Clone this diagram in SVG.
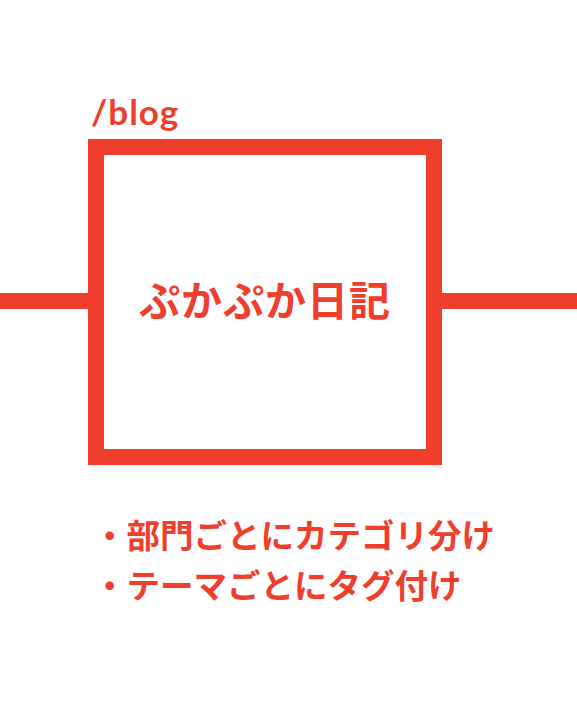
<svg xmlns="http://www.w3.org/2000/svg" width="577" height="719" viewBox="0 0 577 719">
<style>
.ln{stroke:#ef3e2c;stroke-width:16;fill:none}
.t{fill:#ef3e2c;font-family:"Noto Sans CJK JP","Noto Sans",sans-serif;font-weight:700}
</style>
<rect width="577" height="719" fill="#fff"/>
<g id="connectors">
<line class="ln" x1="0" y1="301" x2="88" y2="301"/>
<line class="ln" x1="442" y1="301" x2="577" y2="301"/>
</g>
<g id="blog">
<text x="91" y="125" style="fill:#ef3e2c;font-family:Lato,'Noto Sans',sans-serif;font-weight:700;font-size:35px;letter-spacing:1px">/blog</text>
<rect class="ln" x="96" y="147" width="338" height="310"/>
<text class="t" x="265" y="316" text-anchor="middle" font-size="41" font-weight="500" letter-spacing="1">ぷかぷか日記</text>
</g>
<g id="notes">
<text class="t" x="93" y="548" font-size="33.5">・部門ごとにカテゴリ分け</text>
<text class="t" x="93" y="598" font-size="33.5">・テーマごとにタグ付け</text>
</g>
</svg>
